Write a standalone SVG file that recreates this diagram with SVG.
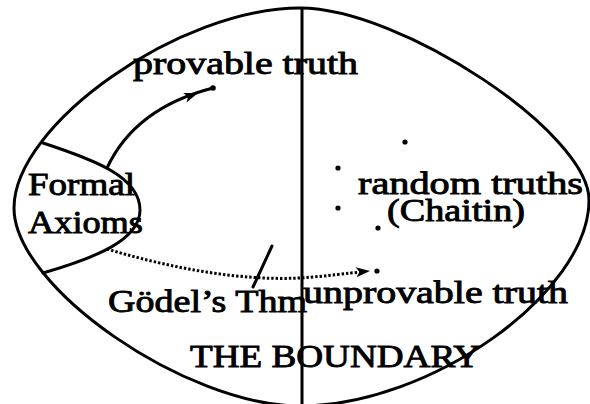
<svg xmlns="http://www.w3.org/2000/svg" xmlns:xlink="http://www.w3.org/1999/xlink" width="590" height="404" viewBox="0 0 590 404">
  <style>
    .ln { fill: none; stroke: #000; stroke-width: 3; stroke-linecap: round; stroke-linejoin: round; }
    .dot { fill: none; stroke: #000; stroke-width: 3; stroke-dasharray: 2.4 2; }
    .t { font-family: "Liberation Serif", "Times New Roman", serif; font-size: 32px; fill: #000; stroke: #000; stroke-width: 0.9; }
    .pt { fill: #000; }
  </style>
  <defs>
    <path id="ah" d="M0,0 L-14,-5 L-10.5,0 L-14,5 Z" fill="#000"/>
  </defs>
  <rect width="590" height="404" fill="#fff"/>
  <g id="boundary">
    <path class="ln" d="M300,8 C401,8 589,133 589,200 C589,293 430,406 300,406 C186,406 14,287 14,208 C14,124 180,8 300,8 Z"/>
    <line class="ln" x1="302" y1="9" x2="302" y2="404" stroke-linecap="butt"/>
  </g>
  <g id="formal-axioms">
    <path class="ln" d="M43,143 C95,160 140,177 140,210 C140,240 95,258 43,273"/>
    <text class="t" x="28" y="195" textLength="107" lengthAdjust="spacingAndGlyphs">Formal</text>
    <text class="t" x="28" y="233" textLength="115" lengthAdjust="spacingAndGlyphs">Axioms</text>
  </g>
  <g id="provable-truth">
    <circle class="pt" cx="213" cy="88" r="2.8"/>
    <text class="t" x="133" y="74" textLength="225" lengthAdjust="spacingAndGlyphs">provable truth</text>
  </g>
  <g id="random-truths">
    <circle class="pt" cx="405" cy="142" r="2.6"/>
    <circle class="pt" cx="338" cy="168" r="2.6"/>
    <circle class="pt" cx="338" cy="208" r="2.6"/>
    <circle class="pt" cx="378" cy="228" r="2.6"/>
    <text class="t" x="358" y="194" textLength="225" lengthAdjust="spacingAndGlyphs">random truths</text>
    <text class="t" x="387" y="221" textLength="138" lengthAdjust="spacingAndGlyphs">(Chaitin)</text>
  </g>
  <g id="unprovable-truth">
    <circle class="pt" cx="377" cy="271" r="2.6"/>
    <text class="t" x="303" y="303" textLength="265" lengthAdjust="spacingAndGlyphs">unprovable truth</text>
  </g>
  <g id="godel">
    <text class="t" x="108" y="312" textLength="199" lengthAdjust="spacingAndGlyphs">Gödel’s Thm</text>
  </g>
  <g id="the-boundary">
    <text class="t" x="190" y="367" textLength="290" lengthAdjust="spacingAndGlyphs">THE BOUNDARY</text>
  </g>
  <g id="connectors">
    <path class="ln" d="M107,168 Q135,108 213,88"/>
    <use xlink:href="#ah" transform="translate(198,93) rotate(-20)"/>
    <path class="dot" d="M107,249 C170,268 240,281 300,278 C330,276 348,273 362,272"/>
    <use xlink:href="#ah" transform="translate(370,271) rotate(-5)"/>
    <line class="ln" x1="253" y1="287" x2="272" y2="246"/>
  </g>
</svg>
